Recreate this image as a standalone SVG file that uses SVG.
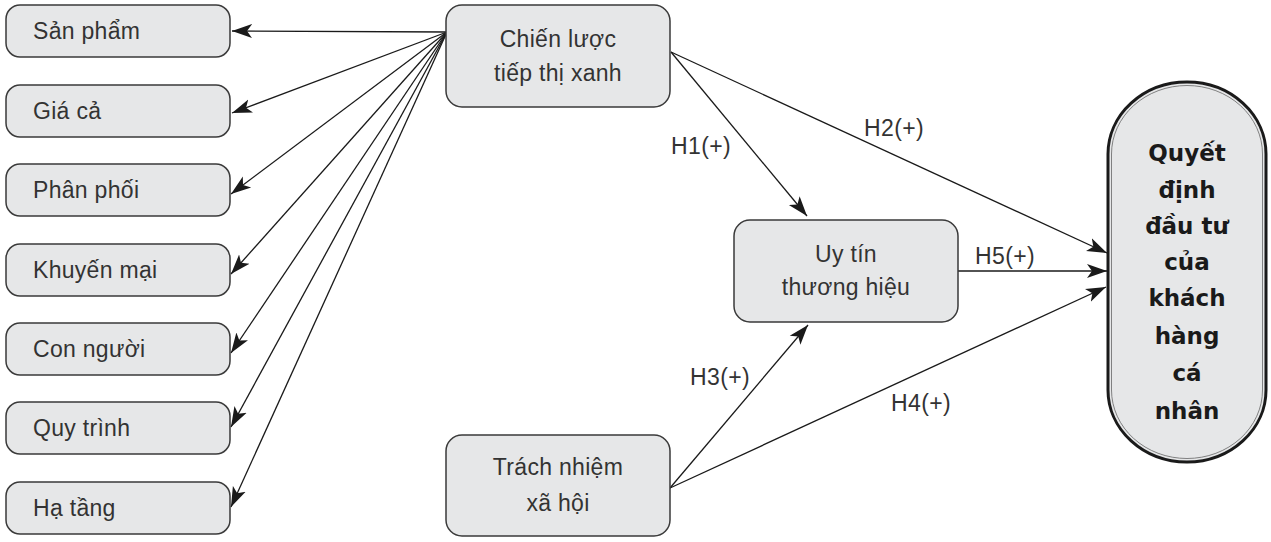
<svg xmlns="http://www.w3.org/2000/svg" width="1271" height="542" viewBox="0 0 1271 542">
<style>
.box{fill:#e6e7e8;stroke:#3a3a3a;stroke-width:1.5}
.t{font-family:"Liberation Sans",Arial,sans-serif;font-size:23px;fill:#333;letter-spacing:0.3px}
.c{text-anchor:middle}
.lbl{font-family:"Liberation Sans",Arial,sans-serif;font-size:23px;fill:#333;letter-spacing:0.4px}
.b{font-family:"DejaVu Sans",sans-serif;font-weight:bold;font-size:23px;fill:#1a1a1a;text-anchor:middle}
.ln{stroke:#1a1a1a;stroke-width:1.3;fill:none;marker-end:url(#ah)}
</style>
<defs>
<marker id="ah" markerUnits="userSpaceOnUse" markerWidth="24" markerHeight="16" viewBox="0 -8 24 16" refX="20" refY="0" orient="auto">
<path d="M0,-7 L20,0 L0,7 L5,0 z" fill="#1a1a1a"/>
</marker>
</defs>
<g id="connectors">
<line class="ln" x1="447" y1="32" x2="232" y2="31"/>
<line class="ln" x1="447" y1="32" x2="232" y2="113"/>
<line class="ln" x1="447" y1="32" x2="231" y2="194"/>
<line class="ln" x1="447" y1="32" x2="231" y2="274"/>
<line class="ln" x1="447" y1="32" x2="231" y2="353"/>
<line class="ln" x1="447" y1="32" x2="231" y2="427"/>
<line class="ln" x1="447" y1="32" x2="231" y2="507"/>
<line class="ln" x1="671" y1="52" x2="807" y2="216"/>
<line class="ln" x1="671" y1="52" x2="1107" y2="253"/>
<line class="ln" x1="958" y1="271" x2="1107" y2="271"/>
<line class="ln" x1="670" y1="488" x2="808" y2="325"/>
<line class="ln" x1="670" y1="488" x2="1106" y2="287"/>
<text class="lbl" x="671" y="154">H1(+)</text>
<text class="lbl" x="864" y="136">H2(+)</text>
<text class="lbl" x="975" y="264">H5(+)</text>
<text class="lbl" x="690" y="385">H3(+)</text>
<text class="lbl" x="891" y="411">H4(+)</text>
</g>
<g id="san-pham"><rect class="box" x="6" y="5" width="224" height="52" rx="14"/><text class="t" x="33" y="39">Sản phẩm</text></g>
<g id="gia-ca"><rect class="box" x="6" y="85" width="224" height="52" rx="14"/><text class="t" x="33" y="119">Giá cả</text></g>
<g id="phan-phoi"><rect class="box" x="6" y="164" width="224" height="52" rx="14"/><text class="t" x="33" y="198">Phân phối</text></g>
<g id="khuyen-mai"><rect class="box" x="6" y="244" width="224" height="52" rx="14"/><text class="t" x="33" y="278">Khuyến mại</text></g>
<g id="con-nguoi"><rect class="box" x="6" y="323" width="224" height="52" rx="14"/><text class="t" x="33" y="357">Con người</text></g>
<g id="quy-trinh"><rect class="box" x="6" y="402" width="224" height="52" rx="14"/><text class="t" x="33" y="436">Quy trình</text></g>
<g id="ha-tang"><rect class="box" x="6" y="482" width="224" height="52" rx="14"/><text class="t" x="33" y="516">Hạ tầng</text></g>
<g id="chien-luoc"><rect class="box" x="446" y="5" width="224" height="102" rx="16"/><text class="t c" x="558" y="47">Chiến lược</text><text class="t c" x="558" y="81">tiếp thị xanh</text></g>
<g id="uy-tin"><rect class="box" x="734" y="220" width="224" height="102" rx="16"/><text class="t c" x="846" y="262">Uy tín</text><text class="t c" x="846" y="295">thương hiệu</text></g>
<g id="trach-nhiem"><rect class="box" x="446" y="435" width="224" height="101" rx="16"/><text class="t c" x="558" y="475">Trách nhiệm</text><text class="t c" x="558" y="511">xã hội</text></g>
<g id="quyet-dinh">
<rect x="1108" y="82" width="158" height="380" rx="79" ry="72" fill="#e6e7e8" stroke="#1a1a1a" stroke-width="3"/>
<rect x="1111.5" y="85.5" width="151" height="373" rx="75.5" ry="68.5" fill="none" stroke="#666" stroke-width="0.8"/>
<text class="b" x="1187" y="161">Quyết</text>
<text class="b" x="1187" y="198">định</text>
<text class="b" x="1187" y="234">đầu tư</text>
<text class="b" x="1187" y="270">của</text>
<text class="b" x="1187" y="306">khách</text>
<text class="b" x="1187" y="344">hàng</text>
<text class="b" x="1187" y="381">cá</text>
<text class="b" x="1187" y="419">nhân</text>
</g>
</svg>
